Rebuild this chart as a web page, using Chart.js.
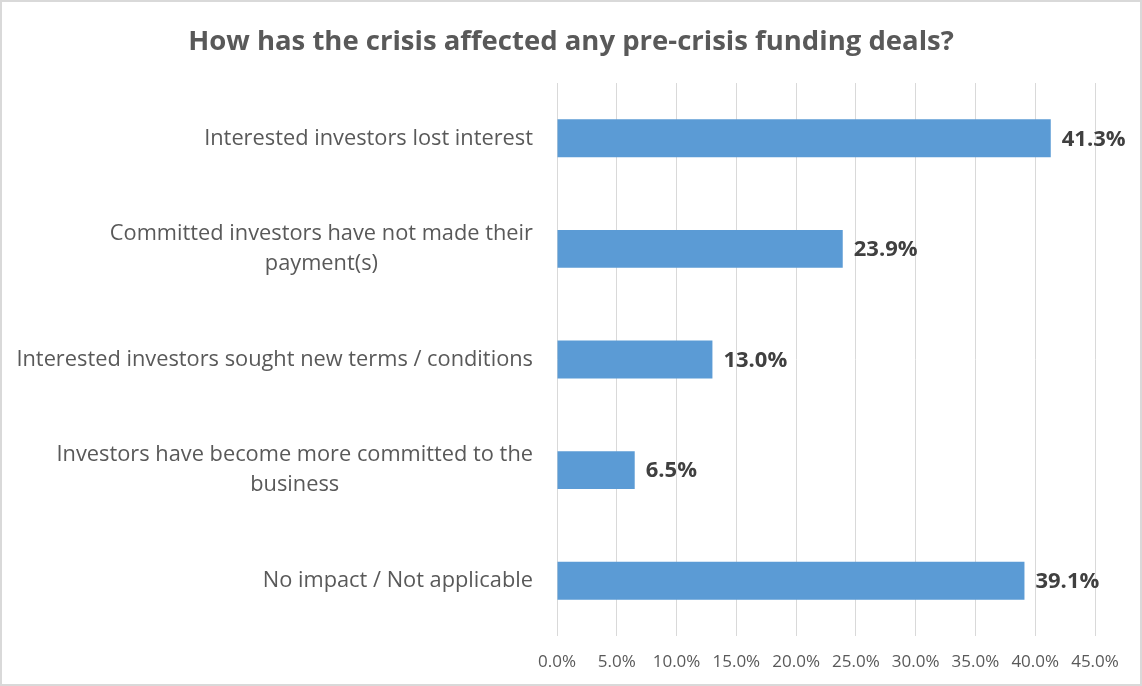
<!DOCTYPE html>
<html>
<head>
<meta charset="utf-8">
<script src="https://cdn.jsdelivr.net/npm/chart.js@4"></script>
<style>
    html, body { margin: 0; padding: 0; background: #fff; }
    #wrap { width: 1142px; height: 686px; }
</style>
</head>
<body>
<div id="wrap"><canvas id="chart"></canvas></div>
<script>
// Datos del gráfico
const categories = [
    ["Interested investors lost interest"],
    ["Committed investors have not made their", "payment(s)"],
    ["Interested investors sought new terms / conditions"],
    ["Investors have become more committed to the", "business"],
    ["No impact / Not applicable"]
];
const values = [41.3, 23.9, 13.0, 6.5, 39.1];
const tickValues = [0, 5, 10, 15, 20, 25, 30, 35, 40, 45];

const FONT = "'Open Sans', sans-serif";
const TEXT = '#595959';

// Fondo blanco y borde del gráfico
const frame = {
    id: 'frame',
    beforeDraw(chart) {
        const ctx = chart.ctx;
        ctx.save();
        ctx.fillStyle = '#fff';
        ctx.fillRect(0, 0, chart.width, chart.height);
        ctx.strokeStyle = '#d9d9d9';
        ctx.lineWidth = 2;
        ctx.strokeRect(1, 1, chart.width - 2, chart.height - 2);
        ctx.restore();
    }
};

// Etiquetas de categoría: una línea alineada a la derecha, varias centradas entre sí
const catLabels = {
    id: 'catLabels',
    afterDraw(chart) {
        const ctx = chart.ctx;
        const y = chart.scales.y;
        const right = chart.chartArea.left - 24;
        ctx.save();
        ctx.font = "21.8px " + FONT;
        ctx.fillStyle = TEXT;
        ctx.textAlign = 'center';
        ctx.textBaseline = 'middle';
        const lh = 30;
        categories.forEach((lines, i) => {
            const cy = y.getPixelForTick(i);
            const widest = Math.max(...lines.map(l => ctx.measureText(l).width));
            const cx = right - widest / 2;
            const start = cy - (lines.length - 1) * lh / 2;
            lines.forEach((l, j) => ctx.fillText(l, cx, start + j * lh));
        });
        ctx.restore();
    }
};

// Etiquetas de valor al final de cada barra
const valueLabels = {
    id: 'valueLabels',
    afterDatasetsDraw(chart) {
        const ctx = chart.ctx;
        const meta = chart.getDatasetMeta(0);
        ctx.save();
        ctx.font = "bold 22px " + FONT;
        ctx.fillStyle = '#404040';
        ctx.textAlign = 'left';
        ctx.textBaseline = 'middle';
        meta.data.forEach((bar, i) => {
            ctx.fillText(values[i].toFixed(1) + '%', bar.x + 11, bar.y + 1);
        });
        ctx.restore();
    }
};

new Chart(document.getElementById('chart'), {
    type: 'bar',
    data: {
        labels: categories.map(c => c.join(' ')),
        datasets: [{
            data: values,
            backgroundColor: '#5b9bd5',
            borderWidth: 0,
            barPercentage: 0.343,
            categoryPercentage: 1
        }]
    },
    options: {
        indexAxis: 'y',
        responsive: true,
        maintainAspectRatio: false,
        animation: false,
        layout: { padding: { left: 47, right: 47, top: 0, bottom: 0 } },
        scales: {
            x: {
                min: 0,
                max: 45,
                afterBuildTicks: (scale) => { scale.ticks = tickValues.map(v => ({ value: v })); },
                afterFit: (scale) => { scale.height = 50; },
                grid: { color: '#d9d9d9', lineWidth: 1, drawTicks: false },
                border: { display: false },
                ticks: {
                    color: TEXT,
                    padding: 16,
                    font: { family: FONT, size: 17 },
                    callback: (v) => Number(v).toFixed(1) + '%'
                }
            },
            y: {
                grid: { display: false },
                border: { display: false },
                ticks: { display: false },
                afterFit: (scale) => { scale.width = 510; }
            }
        },
        plugins: {
            legend: { display: false },
            tooltip: { enabled: false },
            title: {
                display: true,
                text: 'How has the crisis affected any pre-crisis funding deals?',
                color: TEXT,
                font: { family: FONT, size: 27.5, weight: 'bold' },
                padding: { top: 25.3, bottom: 24.7 }
            }
        }
    },
    plugins: [frame, catLabels, valueLabels]
});
</script>
</body>
</html>
